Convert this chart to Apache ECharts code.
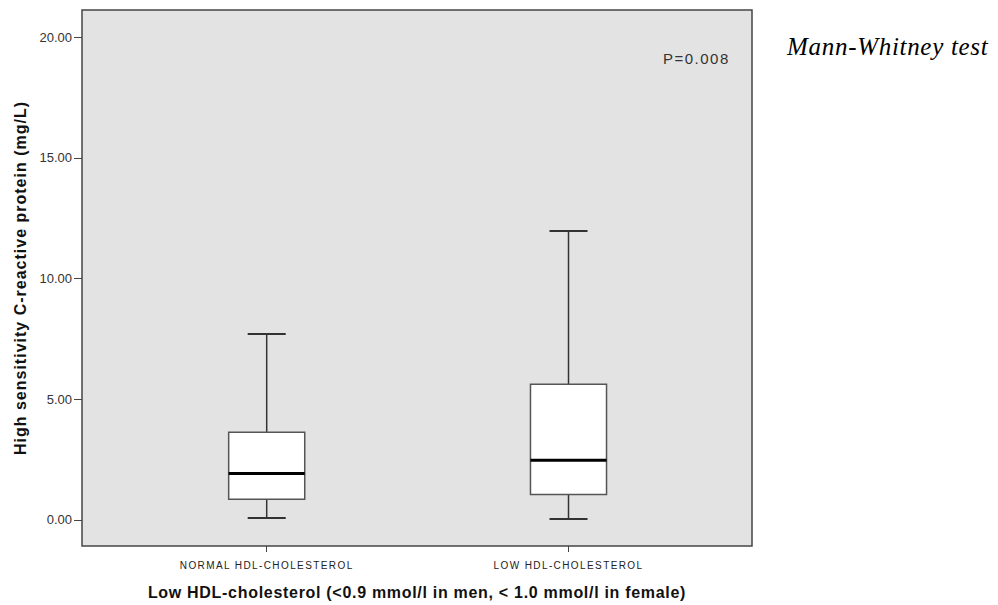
<!DOCTYPE html>
<html>
<head>
<meta charset="utf-8">
<script src="https://cdn.jsdelivr.net/npm/echarts@6/dist/echarts.min.js"></script>
<style>
html,body{margin:0;padding:0;background:#fff}
#c{width:998px;height:605px}
#c text[style*="10px"]{letter-spacing:1.4px}
#c text[style*="Arial"][style*="16px"]{letter-spacing:1.0px}
#c text[style*="Helvetica"][style*="16px"]{letter-spacing:0.7px}
#c text[style*="15px"]{letter-spacing:1.5px}
#c text[style*="Serif"]{letter-spacing:0.7px}
</style>
</head>
<body>
<div id="c"></div>
<script>
const categories = ['NORMAL HDL-CHOLESTEROL', 'LOW HDL-CHOLESTEROL'];
// [min, Q1, median, Q3, max]
const boxNormal = [0.08, 0.86, 1.92, 3.63, 7.70];
const boxLow = [0.04, 1.05, 2.47, 5.62, 11.97];
const yTicks = [0, 5, 10, 15, 20];
const pText = 'P=0.008';
const testText = 'Mann-Whitney test';

const BOX_W = 0.252;
const seriesData = [[0].concat(boxNormal), [1].concat(boxLow)];

const chart = echarts.init(document.getElementById('c'), null, {renderer: 'svg'});
chart.setOption({
  animation: false,
  grid: {left: 82, top: 10, width: 670, height: 536, show: true, backgroundColor: '#e3e3e3', borderColor: '#454545', borderWidth: 1.5},
  xAxis: {
    type: 'value', min: -0.612, max: 1.608,
    splitLine: {show: false},
    axisLine: {show: false, onZero: false},
    axisTick: {show: true, length: 6, lineStyle: {color: '#444'}, customValues: [0, 1]},
    axisLabel: {customValues: [0, 1], formatter: v => categories[Math.round(v)] || '', color: '#222', fontFamily: 'Liberation Sans, sans-serif', fontSize: 10, margin: 14},
    name: 'Low HDL-cholesterol (<0.9 mmol/l in men, < 1.0 mmol/l in female)',
    nameLocation: 'middle', nameGap: 38,
    nameTextStyle: {fontFamily: 'Liberation Sans, Helvetica', fontSize: 16, fontWeight: 'bold', color: '#111'}
  },
  yAxis: {
    type: 'value', min: -1.08, max: 21.12,
    splitLine: {show: false},
    axisLine: {show: false, onZero: false},
    axisTick: {show: true, length: 8, lineStyle: {color: '#444'}, customValues: yTicks},
    axisLabel: {customValues: yTicks, formatter: v => v.toFixed(2), color: '#333', fontFamily: 'Liberation Sans, sans-serif', fontSize: 13, margin: 10},
    name: 'High sensitivity C-reactive protein (mg/L)',
    nameLocation: 'middle', nameGap: 54,
    nameTextStyle: {fontFamily: 'Liberation Sans, Arial', fontSize: 16, fontWeight: 'bold', color: '#111'}
  },
  series: [{
    type: 'custom',
    data: seriesData,
    renderItem: function (params, api) {
      const x = api.value(0);
      const mn = api.coord([x, api.value(1)]);
      const q1 = api.coord([x, api.value(2)]);
      const md = api.coord([x, api.value(3)]);
      const q3 = api.coord([x, api.value(4)]);
      const mx = api.coord([x, api.value(5)]);
      const w = api.size([BOX_W, 0])[0];
      const cx = mn[0];
      const lineStyle = {stroke: '#333', lineWidth: 1.5};
      return {
        type: 'group',
        children: [
          {type: 'line', shape: {x1: cx, y1: q3[1], x2: cx, y2: mx[1]}, style: lineStyle},
          {type: 'line', shape: {x1: cx, y1: q1[1], x2: cx, y2: mn[1]}, style: lineStyle},
          {type: 'line', shape: {x1: cx - w / 4, y1: mx[1], x2: cx + w / 4, y2: mx[1]}, style: {stroke: '#333', lineWidth: 2}},
          {type: 'line', shape: {x1: cx - w / 4, y1: mn[1], x2: cx + w / 4, y2: mn[1]}, style: {stroke: '#333', lineWidth: 2}},
          {type: 'rect', shape: {x: cx - w / 2, y: q3[1], width: w, height: q1[1] - q3[1]}, style: {fill: '#ffffff', stroke: '#555', lineWidth: 1.5}},
          {type: 'line', shape: {x1: cx - w / 2, y1: md[1], x2: cx + w / 2, y2: md[1]}, style: {stroke: '#000', lineWidth: 3}}
        ]
      };
    }
  }],
  graphic: [
    {type: 'text', left: 663, top: 51, style: {text: pText, font: '15px "Liberation Sans", sans-serif', fill: '#333'}},
    {type: 'text', left: 787, top: 34, style: {text: testText, font: 'italic 25px "Liberation Serif", serif', fill: '#000'}}
  ]
});
</script>
</body>
</html>
